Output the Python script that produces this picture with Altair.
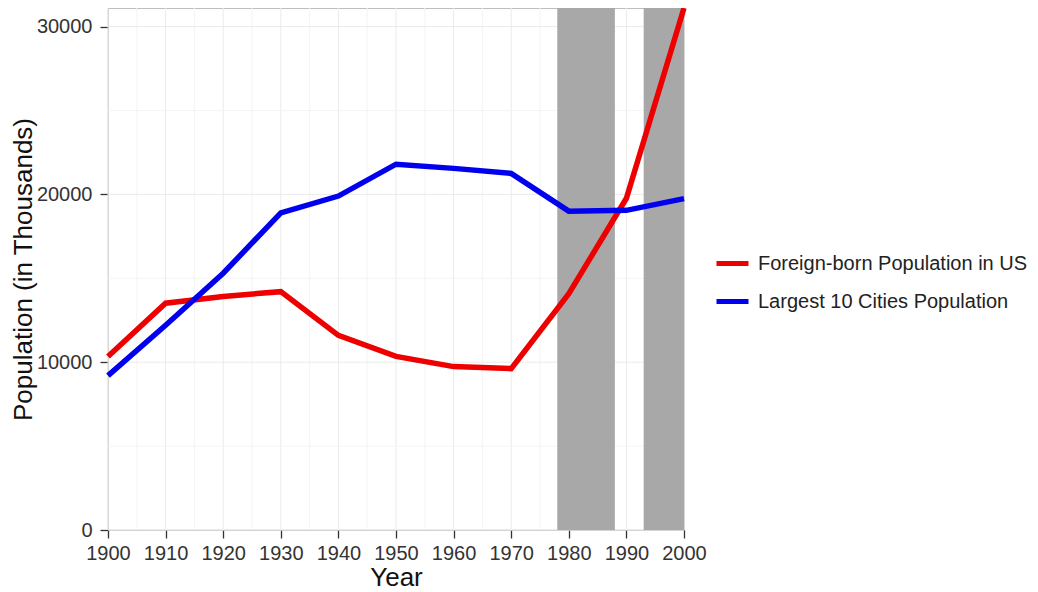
import altair as alt
import pandas as pd

years = [1900, 1910, 1920, 1930, 1940, 1950, 1960, 1970, 1980, 1990, 2000]
foreign_born = [10341, 13516, 13921, 14204, 11595, 10347, 9738, 9619, 14080, 19767, 31107]
largest_cities = [9200, 12200, 15300, 18900, 19900, 21800, 21550, 21250, 19000, 19050, 19750]
series_names = ["Foreign-born Population in US", "Largest 10 Cities Population"]
series_colors = ["#ee0000", "#0000ee"]

shade_start = [1978, 1993]
shade_end = [1988, 2000]

x_ticks = list(range(1900, 2001, 10))
y_ticks = [0, 10000, 20000, 30000]
x_minor = list(range(1905, 2000, 10))
y_minor = [5000, 15000, 25000]

rows = []
for y, a, b in zip(years, foreign_born, largest_cities):
    rows.append({"Year": y, "Population": a, "Series": series_names[0]})
    rows.append({"Year": y, "Population": b, "Series": series_names[1]})
df = pd.DataFrame(rows)

W, H = 576, 522
xscale = alt.Scale(domain=[1900, 2000], nice=False)
yscale = alt.Scale(domain=[0, 31107], nice=False)

xaxis = alt.Axis(values=x_ticks, format="d", title="Year", grid=False, domain=False,
                 tickColor="#333333", tickSize=8, tickWidth=1.3,
                 labelFontSize=20, labelColor="#333333", labelPadding=5,
                 titleFontSize=26, titleFontWeight="normal", titleColor="#111111",
                 titlePadding=1, labelFlush=False)
yaxis = alt.Axis(values=y_ticks, format="d", title="Population (in Thousands)", grid=False,
                 domain=False, tickColor="#333333", tickSize=8, tickWidth=1.3,
                 labelFontSize=20, labelColor="#333333", labelPadding=8,
                 titleFontSize=26, titleFontWeight="normal", titleColor="#111111",
                 titlePadding=0)

xg_major = alt.Chart(pd.DataFrame({"v": x_ticks})).mark_rule(color="#ebebeb", strokeWidth=1).encode(
    x=alt.X("v:Q", scale=xscale, axis=xaxis, title="Year"))
xg_minor = alt.Chart(pd.DataFrame({"v": x_minor})).mark_rule(color="#f4f4f4", strokeWidth=1).encode(
    x=alt.X("v:Q", scale=xscale, axis=xaxis, title="Year"))
yg_major = alt.Chart(pd.DataFrame({"v": y_ticks})).mark_rule(color="#ebebeb", strokeWidth=1).encode(
    y=alt.Y("v:Q", scale=yscale, axis=yaxis, title="Population (in Thousands)"))
yg_minor = alt.Chart(pd.DataFrame({"v": y_minor})).mark_rule(color="#f4f4f4", strokeWidth=1).encode(
    y=alt.Y("v:Q", scale=yscale, axis=yaxis, title="Population (in Thousands)"))

shade = alt.Chart(pd.DataFrame({"s": shade_start, "e": shade_end})).mark_rect(color="#a8a8a8").encode(
    x=alt.X("s:Q", scale=xscale, axis=xaxis, title="Year"),
    x2="e:Q",
    y=alt.value(0),
    y2=alt.value(H),
)

lines = alt.Chart(df).mark_line(strokeWidth=5.5).encode(
    x=alt.X("Year:Q", scale=xscale, axis=xaxis, title="Year"),
    y=alt.Y("Population:Q", scale=yscale, axis=yaxis, title="Population (in Thousands)"),
    color=alt.Color("Series:N", scale=alt.Scale(domain=series_names, range=series_colors),
                    legend=alt.Legend(title=None, orient="none", legendX=606, legendY=237,
                                      symbolType="stroke", symbolStrokeWidth=5, symbolSize=1024,
                                      labelFontSize=20, labelColor="#222222", labelLimit=500,
                                      rowPadding=9, labelOffset=7)),
)

chart = alt.layer(xg_minor, xg_major, yg_minor, yg_major, shade, lines).properties(
    width=W, height=H,
    padding={"left": 100, "top": 0, "right": 346, "bottom": 70},
    autosize=alt.AutoSizeParams(type="none"),
).configure(font="Liberation Sans").configure_view(stroke="#bdbdbd", strokeWidth=1.2)

chart.save("out.html", embed_options={"renderer": "svg", "actions": False})
